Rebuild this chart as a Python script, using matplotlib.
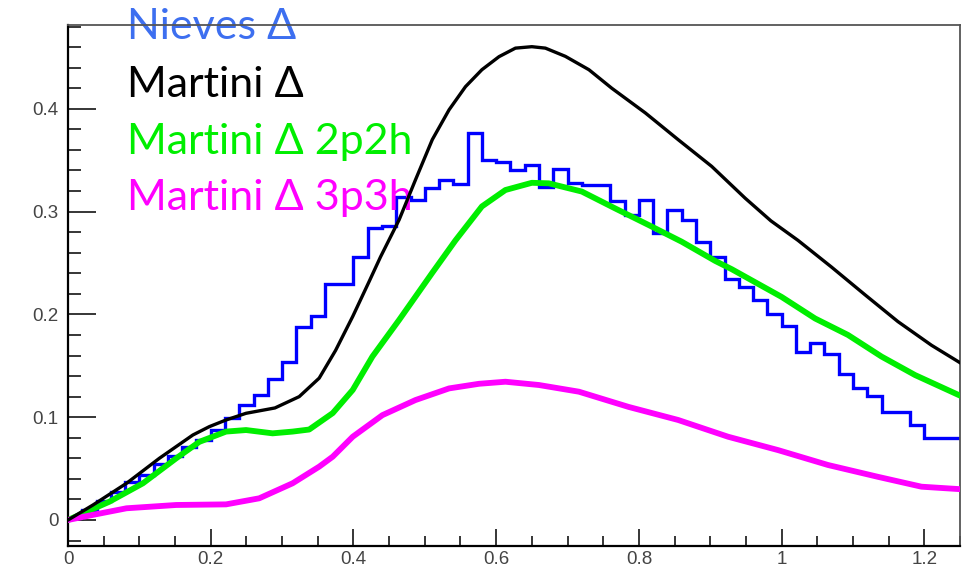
import numpy as np
import matplotlib.pyplot as plt
from matplotlib.ticker import MultipleLocator, FormatStrFormatter

# Nieves Delta histogram, bins of 0.02 starting at 0
nieves_vals = [0.002, 0.010, 0.018, 0.027, 0.037, 0.044, 0.054, 0.062, 0.071, 0.078,
               0.0875, 0.099, 0.112, 0.122, 0.137, 0.154, 0.188, 0.198, 0.230, 0.230,
               0.256, 0.284, 0.286, 0.314, 0.311, 0.323, 0.331, 0.327, 0.376, 0.350,
               0.348, 0.340, 0.345, 0.324, 0.341, 0.328, 0.326, 0.326, 0.310, 0.297,
               0.311, 0.279, 0.302, 0.292, 0.270, 0.256, 0.234, 0.227, 0.214, 0.200,
               0.189, 0.163, 0.172, 0.161, 0.142, 0.128, 0.121, 0.105, 0.105, 0.092,
               0.080, 0.080, 0.080]
bin_width = 0.02

# Martini Delta (total)
martini_x = [0, 0.035, 0.082, 0.128, 0.175, 0.198, 0.2215, 0.2495, 0.29, 0.324,
             0.352, 0.375, 0.399, 0.422, 0.438, 0.464, 0.487, 0.5105, 0.534, 0.557,
             0.580, 0.604, 0.627, 0.650, 0.669, 0.697, 0.730, 0.762, 0.809, 0.855,
             0.902, 0.949, 0.985, 1.023, 1.070, 1.117, 1.163, 1.210, 1.25]
martini_y = [0, 0.0146, 0.0357, 0.060, 0.0827, 0.0908, 0.0973, 0.1038, 0.109, 0.120,
             0.138, 0.165, 0.198, 0.232, 0.256, 0.292, 0.331, 0.370, 0.399, 0.4215,
             0.438, 0.4507, 0.459, 0.4604, 0.459, 0.451, 0.438, 0.420, 0.396, 0.370,
             0.344, 0.313, 0.291, 0.272, 0.246, 0.219, 0.193, 0.170, 0.153]

# Martini Delta 2p2h
m2p2h_x = [0, 0.058, 0.105, 0.1516, 0.184, 0.2215, 0.2495, 0.2867, 0.3147, 0.338,
           0.371, 0.399, 0.4266, 0.464, 0.51, 0.543, 0.580, 0.613, 0.650, 0.6737,
           0.720, 0.767, 0.8135, 0.860, 0.907, 0.930, 1.000, 1.047, 1.093, 1.140,
           1.187, 1.25]
m2p2h_y = [0, 0.0178, 0.0357, 0.060, 0.076, 0.086, 0.0875, 0.0843, 0.086, 0.088,
           0.104, 0.1265, 0.159, 0.1946, 0.240, 0.272, 0.305, 0.321, 0.328, 0.3275,
           0.3195, 0.303, 0.287, 0.2707, 0.252, 0.244, 0.217, 0.196, 0.180, 0.159,
           0.141, 0.121]

# Martini Delta 3p3h
m3p3h_x = [0, 0.035, 0.082, 0.1516, 0.2215, 0.268, 0.3147, 0.352, 0.371, 0.399,
           0.4406, 0.487, 0.534, 0.576, 0.613, 0.660, 0.716, 0.7856, 0.855, 0.925,
           0.995, 1.065, 1.135, 1.196, 1.25]
m3p3h_y = [0, 0.005, 0.0114, 0.0146, 0.0152, 0.0211, 0.0357, 0.0519, 0.0616, 0.081,
           0.102, 0.1167, 0.128, 0.1325, 0.1345, 0.1313, 0.1248, 0.110, 0.0973, 0.081,
           0.068, 0.0535, 0.042, 0.0324, 0.030]

labels = ["Nieves Δ", "Martini Δ", "Martini Δ 2p2h", "Martini Δ 3p3h"]
label_colors = ["#3d6ff0", "black", "#00ee00", "#ff00ff"]

fig = plt.figure(figsize=(9.68, 5.70), dpi=100)
ax = fig.add_axes([68 / 968, 24.3 / 570, 892 / 968, 520.7 / 570])

edges = np.arange(len(nieves_vals) + 1) * bin_width
ax.stairs(nieves_vals, edges, color="#0000ff", lw=2.4, baseline=None, zorder=1.5)
ax.plot(martini_x, martini_y, color="black", lw=2.4, zorder=4)
ax.plot(m2p2h_x, m2p2h_y, color="#00ee00", lw=4.2, zorder=3.5)
ax.plot(m3p3h_x, m3p3h_y, color="#ff00ff", lw=4.2, zorder=3.5)

ax.set_xlim(0, 1.25)
ax.set_ylim(-0.025, 0.4815)

ax.xaxis.set_major_locator(MultipleLocator(0.2))
ax.xaxis.set_minor_locator(MultipleLocator(0.05))
ax.yaxis.set_major_locator(MultipleLocator(0.1))
ax.yaxis.set_minor_locator(MultipleLocator(0.02))
ax.xaxis.set_major_formatter(FormatStrFormatter("%g"))
ax.yaxis.set_major_formatter(FormatStrFormatter("%g"))

ax.tick_params(axis="y", which="major", direction="in", length=20, width=1.1, pad=7,
               labelsize=13.5, labelcolor="#444444")
ax.tick_params(axis="y", which="minor", direction="in", length=9.5, width=1.1)
ax.tick_params(axis="x", which="major", direction="in", length=12.4, width=1.1, pad=4,
               labelsize=13.5, labelcolor="#444444")
ax.tick_params(axis="x", which="minor", direction="in", length=7.2, width=1.1)
for lab in ax.get_xticklabels() + ax.get_yticklabels():
    lab.set_family("Liberation Sans")

ax.spines["left"].set_linewidth(1.6)
ax.spines["bottom"].set_linewidth(1.6)
ax.spines["top"].set_color("#555555")
ax.spines["right"].set_color("#555555")
ax.spines["top"].set_linewidth(1.3)
ax.spines["right"].set_linewidth(1.3)

baselines = [39, 97, 154, 210]
for lab, col, by in zip(labels, label_colors, baselines):
    ax.text(127 / 968, (570 - by) / 570, lab, transform=fig.transFigure,
            color=col, fontsize=31, family=["Lato", "DejaVu Sans"],
            va="baseline", ha="left", zorder=2)

fig.savefig("out.png", dpi=100)
